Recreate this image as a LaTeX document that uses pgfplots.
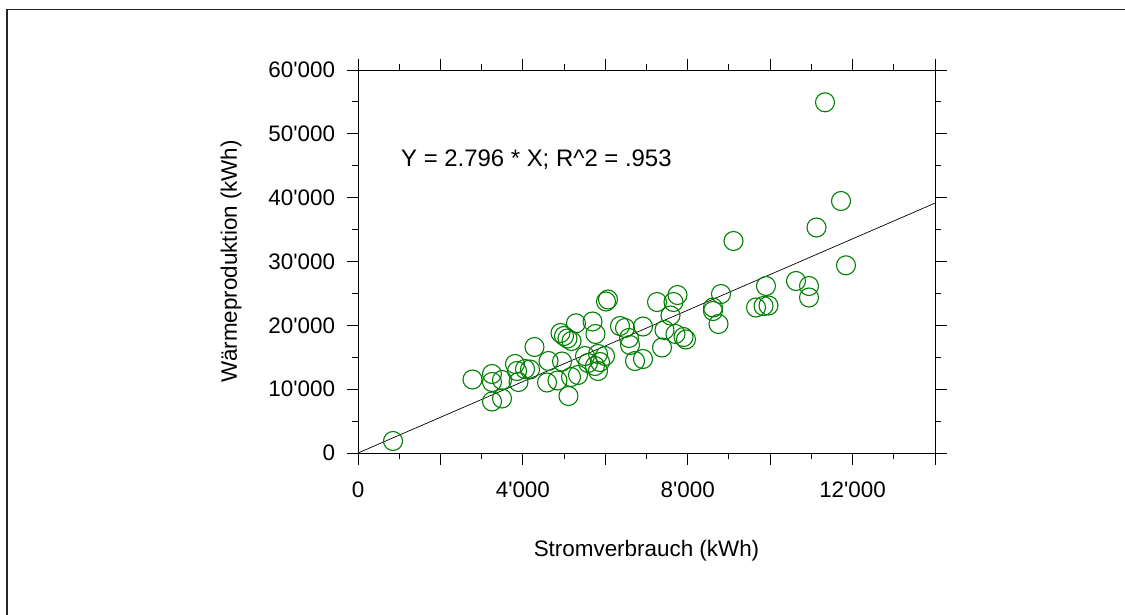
\documentclass[border=0pt]{standalone}
\usepackage{fontspec}
\setmainfont{Liberation Sans}
\usepackage{pgfplots}
\usepackage{pgfplotstable}
\pgfplotsset{compat=1.18}
\definecolor{markgreen}{RGB}{0,128,0}
\newcommand\ap{\textquotesingle}

% Strom- und Wärmewerte der einzelnen Anlagen (kWh)
\pgfplotstableread{
x y
849 1880
2778 11514
3251 12376
3251 11123
3494 11436
3251 8068
3494 8538
3809 13943
3858 12846
3894 11123
4052 13159
4173 13081
4282 16606
4622 14413
4586 11044
4840 11358
4950 14334
5107 8930
4913 18799
4998 18329
5083 17937
5180 17546
5289 20319
5168 11906
5338 12219
5508 15196
5580 14099
5690 20601
5762 18642
5750 13629
5823 15509
5872 14256
5823 12846
5993 15196
6017 23734
6066 24047
6357 19896
6478 19582
6575 18016
6600 16919
6721 14413
6915 14726
6915 19817
7255 23655
7376 16527
7437 19269
7582 21540
7655 23655
7752 24752
7703 18642
7898 18172
7958 17781
8613 22794
8613 22245
8747 20209
8807 24909
9111 33212
9657 22794
9839 23029
9960 23107
9899 26162
10627 26945
10943 26162
10943 24360
11125 35326
11331 54940
11719 39478
11840 29405
}\messdata

\begin{document}
\begin{tikzpicture}
\path[use as bounding box] (0bp,0bp) rectangle (1125bp,615bp);
\draw[line width=1.2bp, black!85] (7bp,0bp) -- (7bp,605.5bp) -- (1125bp,605.5bp);
\begin{axis}[
  at={(358bp,162bp)}, anchor=south west,
  scale only axis, width=577bp, height=383bp,
  xmin=0, xmax=14000, ymin=0, ymax=60000,
  axis line style={line width=0.9bp, black},
  tick style={line width=0.9bp, black},
  tick align=outside, tick pos=both,
  major tick length=11.5bp, minor tick length=6bp,
  xtick={0,2000,...,14000},
  xticklabels={0,,4\ap000,,8\ap000,,12\ap000,},
  minor x tick num=1,
  ytick={0,10000,...,60000},
  yticklabels={0,10\ap000,20\ap000,30\ap000,40\ap000,50\ap000,60\ap000},
  minor y tick num=1,
  scaled ticks=false,
  font=\fontsize{22.5}{27}\selectfont,
  xticklabel style={yshift=-14bp},
  yticklabel style={xshift=-8bp},
  xlabel={Stromverbrauch (kWh)},
  ylabel={Wärmeproduktion (kWh)},
  xlabel style={at={(axis description cs:0.5,-0.256)}, anchor=center},
  ylabel style={at={(axis description cs:-0.220,0.5)}, anchor=center},
  clip=false,
]
\addplot[only marks, mark=o, mark size=9.5bp,
  mark options={draw=markgreen, line width=1.1bp}] table {\messdata};
\addplot[black, line width=0.7bp] coordinates {(0,0) (14000,39144)};
\node[anchor=west, inner sep=0pt, font=\fontsize{24}{29}\selectfont]
  at (axis cs:1043,45900) {Y = 2.796 * X; R\textasciicircum 2 = .953};
\end{axis}
\end{tikzpicture}
\end{document}
